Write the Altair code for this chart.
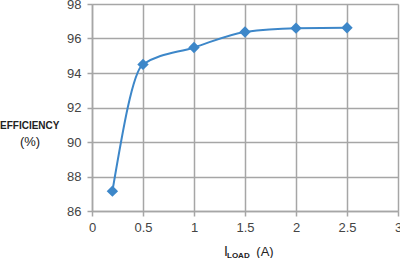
import altair as alt
import pandas as pd

load_a = [0.2, 0.5, 1.0, 1.5, 2.0, 2.5]
efficiency = [87.15, 94.5, 95.48, 96.38, 96.6, 96.62]
x_ticks = [0, 0.5, 1, 1.5, 2, 2.5, 3]
y_ticks = [86, 88, 90, 92, 94, 96, 98]

df = pd.DataFrame({"load": load_a, "eff": efficiency})

GRID = "#a6a6a6"
BLUE = "#3d87c9"
FONT = "Liberation Sans"

xenc = alt.X("load:Q", scale=alt.Scale(domain=[0, 3], nice=False),
             axis=alt.Axis(values=x_ticks, format="~g", title=None, grid=True, gridColor=GRID, gridWidth=1.5,
                           domainColor=GRID, domainWidth=1.5, tickColor=GRID, tickWidth=1.5,
                           tickSize=5, labelFont=FONT, labelFontSize=13, labelColor="#444444",
                           labelPadding=5, labelFlush=False))
yenc = alt.Y("eff:Q", scale=alt.Scale(domain=[86, 98], nice=False, zero=False),
             axis=alt.Axis(values=y_ticks, title=None, grid=True, gridColor=GRID, gridWidth=1.5,
                           domainColor=GRID, domainWidth=1.5, tickColor=GRID, tickWidth=1.5,
                           tickSize=5, labelFont=FONT, labelFontSize=13, labelColor="#444444",
                           labelPadding=6))

base = alt.Chart(df)
line = base.mark_line(interpolate="monotone", color=BLUE, strokeWidth=2).encode(x=xenc, y=yenc)
pts = base.mark_point(shape="diamond", filled=True, size=130, color=BLUE, opacity=1).encode(x=xenc, y=yenc)

def label(txt, x, y, size=13, weight="normal", font=FONT, align="center"):
    return alt.Chart(pd.DataFrame({"t": [txt]})).mark_text(
        font=font, fontSize=size, fontWeight=weight, color="#222222", align=align, baseline="middle"
    ).encode(text="t:N", x=alt.value(x), y=alt.value(y))

t1 = label("EFFICIENCY", -92, 122, size=10, weight="bold", align="left")
t2 = label("(%)", -62, 138, size=13)
t3 = label("I", 132, 248, size=14, align="left")
t4 = label("LOAD", 135, 252, size=8, weight="bold", align="left")
t5 = label("(A)", 173, 248, size=13)

chart = alt.layer(line, pts, t1, t2, t3, t4, t5).properties(
    width=306, height=207,
    autosize=alt.AutoSizeParams(type="none"),
    padding={"left": 92, "top": 4, "right": 2, "bottom": 47},
).configure_view(stroke=None).configure(background="white")

chart.save("out.html", embed_options={"renderer": "svg", "actions": False})
